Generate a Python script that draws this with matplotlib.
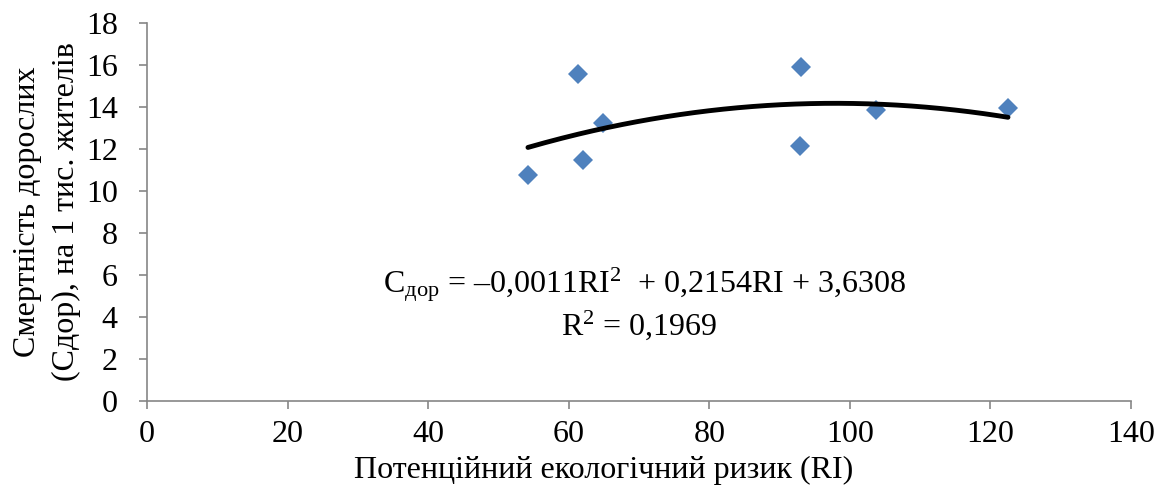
import matplotlib
matplotlib.use("Agg")
import matplotlib.pyplot as plt
import numpy as np

# data
ri = [54.2, 61.3, 62.0, 64.9, 92.9, 93.0, 103.7, 122.5]
mortality = [10.76, 15.57, 11.48, 13.24, 12.14, 15.9, 13.86, 13.95]
# quadratic trend coefficients shown on the chart (a*x^2 + b*x + c)
trend_coef = [-0.0011, 0.2154, 3.6308]
x_ticks = [0, 20, 40, 60, 80, 100, 120, 140]
y_ticks = [0, 2, 4, 6, 8, 10, 12, 14, 16, 18]

plt.rcParams["font.family"] = ["Liberation Serif", "DejaVu Serif"]
plt.rcParams["mathtext.fontset"] = "custom"
plt.rcParams["mathtext.rm"] = "Liberation Serif"
plt.rcParams["mathtext.it"] = "Liberation Serif:italic"
plt.rcParams["mathtext.bf"] = "Liberation Serif:bold"

AX_COL = "#868686"
FS = 23

fig = plt.figure(figsize=(11.71, 4.86), dpi=100)
ax = fig.add_axes([147 / 1171, 1 - 401 / 486, (1131 - 147) / 1171, (401 - 23) / 486])

ax.plot(ri, mortality, "D", color="#4F81BD", markersize=10.5, markeredgewidth=0, zorder=2)

xs = np.linspace(min(ri), max(ri), 200)
ax.plot(xs, np.polyval(trend_coef, xs), color="black", lw=3.5,
        solid_capstyle="round", zorder=3)

ax.set_xlim(0, 140)
ax.set_ylim(0, 18)
ax.set_xticks(x_ticks)
ax.set_yticks(y_ticks)
ax.tick_params(axis="both", direction="out", length=6, width=1.2, color=AX_COL,
               labelsize=FS)
ax.tick_params(axis="x", pad=8)
ax.tick_params(axis="y", pad=15)
for s in ("top", "right"):
    ax.spines[s].set_visible(False)
for s in ("left", "bottom"):
    ax.spines[s].set_color(AX_COL)
    ax.spines[s].set_linewidth(1.2)

fig.text(28 / 1171, 1 - 212 / 486, "Смертність дорослих", rotation=90,
         ha="center", va="center", fontsize=FS)
fig.text(66 / 1171, 1 - 212 / 486, "(Сдор), на 1 тис. жителів", rotation=90,
         ha="center", va="center", fontsize=FS)
fig.text(604 / 1171, 1 - 470 / 486, "Потенційний екологічний ризик (RI)",
         ha="center", va="center", fontsize=FS)

fig.text(645 / 1171, 1 - 285 / 486,
         r"С$_{\mathrm{дор}}$ = –0,0011RI$^{2}$  + 0,2154RI + 3,6308",
         ha="center", va="center", fontsize=FS)
fig.text(639 / 1171, 1 - 325 / 486, r"R$^{2}$ = 0,1969",
         ha="center", va="center", fontsize=FS)

fig.savefig("out.png", dpi=100)
